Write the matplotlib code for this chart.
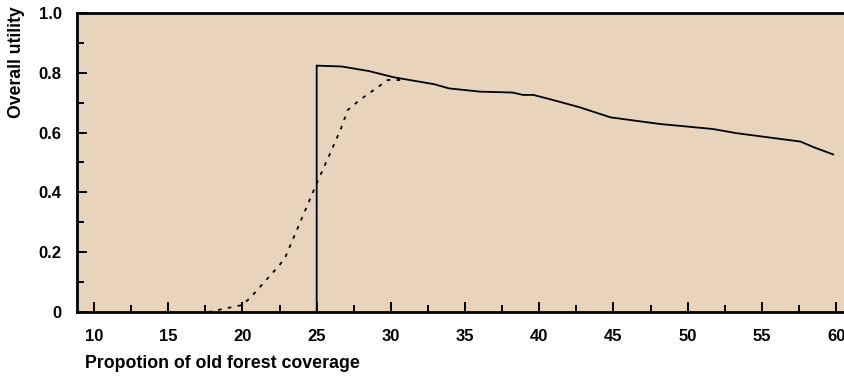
import matplotlib.pyplot as plt
from matplotlib.ticker import MultipleLocator

# overall utility curve (solid)
solid_x = [25.0, 25.0, 26.7, 28.5, 30.2, 32.9, 33.9, 36.0, 38.2, 38.9, 39.6,
           40.7, 42.7, 44.8, 48.1, 51.7, 53.3, 57.6, 58.5, 59.8]
solid_y = [0.0, 0.824, 0.821, 0.806, 0.785, 0.762, 0.748, 0.737, 0.734, 0.726, 0.726,
           0.712, 0.685, 0.651, 0.629, 0.612, 0.598, 0.570, 0.551, 0.527]

# dashed curve
dash_x = [17.7, 19.95, 20.5, 22.5, 22.9, 25.0, 25.9, 26.6, 27.1, 27.9, 29.0, 29.8, 30.8]
dash_y = [0.0, 0.023, 0.046, 0.157, 0.185, 0.43, 0.53, 0.609, 0.676, 0.709, 0.748, 0.776, 0.776]

yticks = [0, 0.2, 0.4, 0.6, 0.8, 1.0]
ytick_labels = ["0", "0.2", "0.4", "0.6", "0.8", "1.0"]
xticks = [10, 15, 20, 25, 30, 35, 40, 45, 50, 55, 60]

plt.rcParams['font.family'] = ['Liberation Sans', 'DejaVu Sans']
plt.rcParams['font.weight'] = 'bold'

fig = plt.figure(figsize=(8.45, 3.77), dpi=100)
ax = fig.add_axes([77 / 845, 65 / 377, 768 / 845, 299 / 377])
ax.set_facecolor('#e8d4bd')

ax.plot(solid_x, solid_y, color='black', lw=1.3, solid_joinstyle='miter')
ax.plot(dash_x, dash_y, color='black', lw=1.3, dashes=(2, 3.5))

ax.set_xlim(8.85, 60.6)
ax.set_ylim(0, 1.0)
ax.set_xticks(xticks)
ax.xaxis.set_minor_locator(MultipleLocator(2.5))
ax.set_yticks(yticks)
ax.set_yticklabels(ytick_labels)
ax.yaxis.set_minor_locator(MultipleLocator(0.1))

ax.tick_params(which='both', direction='in', width=1.4, labelsize=12)
ax.tick_params(axis='x', which='major', pad=12)
ax.tick_params(axis='y', which='major', pad=11)
ax.tick_params(which='major', length=7)
ax.tick_params(which='minor', length=5)
ax.tick_params(axis='x', top=False)
ax.tick_params(axis='y', right=False)
for lab in ax.get_xticklabels() + ax.get_yticklabels():
    lab.set_fontweight('bold')

for s in ['left', 'bottom', 'top']:
    ax.spines[s].set_linewidth(2)
ax.spines['right'].set_visible(False)

fig.text(85 / 845, 1 - 364 / 377, 'Propotion of old forest coverage',
         fontsize=12.8, fontweight='bold', va='center', ha='left')
fig.text(17 / 845, 1 - 6 / 377, 'Overall utility', rotation=90,
         fontsize=12.7, fontweight='bold', va='top', ha='center')

fig.savefig('out.png', dpi=100)
